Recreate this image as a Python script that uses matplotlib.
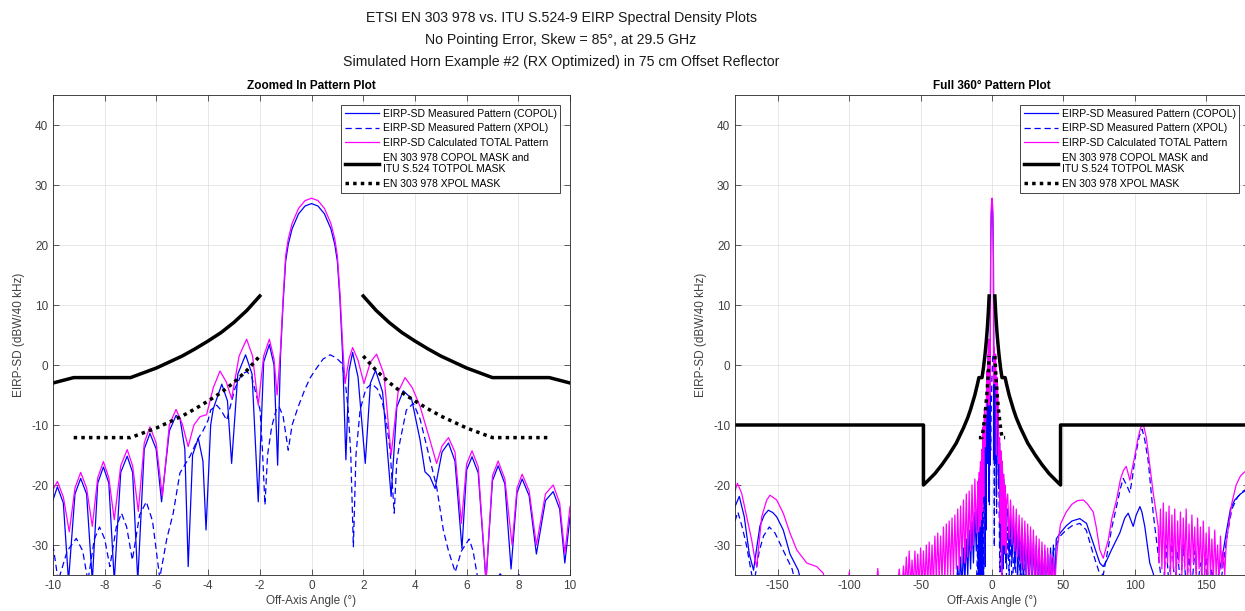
import numpy as np
import matplotlib
matplotlib.use("Agg")
import matplotlib.pyplot as plt

plt.rcParams["font.family"] = ["Liberation Sans", "DejaVu Sans"]
plt.rcParams["axes.unicode_minus"] = False

# ---- zoomed-in pattern (-10..10 deg) ----
mag_zoom_x = [-10.0, -9.83, -9.6, -9.37, -9.15, -8.93, -8.7, -8.48, -8.27, -8.05,
              -7.84, -7.63, -7.38, -7.13, -6.92, -6.7, -6.47, -6.25, -6.01, -5.77,
              -5.5, -5.24, -5.0, -4.77, -4.55, -4.31, -4.06, -3.8, -3.54, -3.3,
              -3.09, -2.8, -2.51, -2.28, -2.06, -1.85, -1.63, -1.45, -1.33, -1.2,
              -1.1, -1.0, -0.9, -0.75, -0.5, -0.25, 0.0, 0.25, 0.5, 0.75,
              0.9, 1.0, 1.1, 1.21, 1.3, 1.45, 1.59, 1.8, 2.03, 2.28,
              2.52, 2.8, 3.08, 3.35, 3.62, 3.9, 4.2, 4.58, 4.84, 5.05,
              5.3, 5.55, 5.8, 6.0, 6.21, 6.45, 6.75, 7.0, 7.22, 7.48,
              7.76, 7.95, 8.15, 8.42, 8.7, 9.05, 9.35, 9.6, 9.8, 10.0]
mag_zoom_y = [-20.8, -19.4, -22.0, -27.8, -20.5, -17.9, -20.5, -26.9, -18.8, -16.1,
              -18.8, -25.8, -16.8, -14.1, -16.8, -24.4, -13.0, -10.3, -13.0, -21.9,
              -10.0, -7.4, -9.8, -13.6, -10.0, -8.6, -8.3, -3.8, -1.0, -2.8,
              -5.6, 1.5, 4.3, 1.5, -6.7, 1.5, 4.3, 1.0, -5.0, 2.5,
              11.0, 18.2, 21.0, 23.6, 26.1, 27.4, 27.8, 27.4, 26.1, 23.6,
              21.0, 18.2, 12.0, 3.0, -3.1, 1.0, 2.9, 0.8, -3.1, 0.5,
              1.8, -1.5, -15.0, -4.5, -2.1, -3.8, -6.9, -12.5, -16.4, -13.5,
              -12.1, -14.5, -26.4, -16.5, -14.3, -17.0, -36.0, -18.5, -16.0, -19.0,
              -30.0, -20.5, -18.2, -21.0, -30.0, -21.5, -20.0, -23.0, -31.4, -23.6]

co_zoom_x = [-10.0, -9.83, -9.6, -9.4, -9.15, -8.93, -8.7, -8.48, -8.27, -8.05,
             -7.84, -7.63, -7.38, -7.13, -6.92, -6.72, -6.47, -6.25, -6.01, -5.8,
             -5.5, -5.24, -5.09, -4.9, -4.77, -4.6, -4.38, -4.2, -4.08, -3.9,
             -3.8, -3.47, -3.25, -3.09, -2.85, -2.55, -2.3, -2.06, -1.85, -1.63,
             -1.45, -1.31, -1.2, -1.1, -1.0, -0.9, -0.75, -0.5, -0.25, 0.0,
             0.25, 0.5, 0.75, 0.9, 1.0, 1.1, 1.2, 1.33, 1.45, 1.59,
             1.8, 2.08, 2.28, 2.48, 2.75, 3.08, 3.3, 3.55, 3.87, 4.2,
             4.39, 4.58, 4.78, 5.05, 5.3, 5.55, 5.82, 6.0, 6.21, 6.45,
             6.75, 7.0, 7.22, 7.48, 7.72, 7.95, 8.15, 8.42, 8.7, 9.05,
             9.35, 9.6, 9.8, 10.0]
co_zoom_y = [-22.5, -20.3, -23.0, -36.0, -21.5, -18.9, -21.5, -36.0, -19.7, -17.0,
             -19.7, -36.0, -17.9, -15.2, -17.9, -36.0, -14.0, -11.4, -14.0, -22.8,
             -11.0, -8.4, -8.8, -14.0, -33.6, -15.0, -12.2, -16.0, -27.5, -10.0,
             -7.3, -3.2, -6.0, -16.4, -1.5, 1.7, -1.5, -22.8, 0.5, 3.4,
             0.0, -16.7, 1.5, 10.2, 17.3, 20.1, 22.7, 25.2, 26.5, 26.9,
             26.5, 25.2, 22.7, 20.1, 17.3, 11.0, 2.0, -15.8, -1.0, 2.1,
             -2.0, -16.4, -3.0, -0.9, -4.5, -21.9, -7.0, -4.3, -5.6, -12.5,
             -17.8, -18.6, -20.6, -14.5, -13.0, -16.0, -30.6, -17.5, -15.3, -18.0,
             -36.0, -19.3, -16.8, -19.8, -34.0, -21.3, -19.0, -21.8, -31.5, -22.6,
             -21.1, -24.0, -33.0, -25.3]

x_zoom_x = [-10.0, -9.8, -9.45, -9.1, -8.85, -8.65, -8.4, -8.2, -8.0, -7.8,
            -7.55, -7.35, -7.15, -6.93, -6.65, -6.39, -6.15, -5.87, -5.6, -5.35,
            -5.09, -4.7, -4.38, -4.2, -4.0, -3.9, -3.67, -3.5, -3.28, -2.96,
            -2.7, -2.5, -2.31, -1.99, -1.9, -1.8, -1.7, -1.54, -1.35, -1.25,
            -1.1, -0.9, -0.75, -0.51, -0.25, -0.06, 0.2, 0.45, 0.72, 0.95,
            1.17, 1.3, 1.42, 1.52, 1.62, 1.72, 1.88, 2.1, 2.33, 2.55,
            2.72, 2.9, 3.04, 3.2, 3.3, 3.42, 3.67, 3.94, 4.2, 4.46,
            4.84, 5.1, 5.3, 5.56, 5.8, 6.1, 6.25, 6.45, 7.1, 7.3,
            7.5, 7.85, 8.0, 8.2, 10.0]
x_zoom_y = [-30.0, -36.0, -31.0, -28.9, -31.0, -36.0, -29.0, -27.0, -29.0, -33.6,
            -27.0, -24.7, -27.0, -32.5, -25.0, -22.8, -26.0, -35.5, -29.0, -24.7,
            -18.0, -15.2, -12.2, -11.0, -9.2, -7.5, -6.7, -7.5, -9.2, -3.9,
            -1.5, -1.1, -2.0, -7.5, -14.0, -23.3, -15.0, -10.3, -7.2, -7.0,
            -8.5, -14.2, -10.0, -6.9, -4.0, -2.2, -0.5, 1.0, 1.7, 1.2,
            0.3, -2.5, -7.5, -15.0, -30.3, -15.0, -7.5, -4.0, -3.1, -4.0,
            -5.8, -9.5, -14.2, -24.7, -16.0, -12.8, -7.5, -6.4, -9.0, -13.6,
            -20.3, -27.5, -31.0, -34.5, -31.0, -29.0, -31.0, -36.0, -36.0, -34.8,
            -36.0, -36.0, -34.8, -36.0, -36.0]

# ---- full 360 pattern, parts outside +-10 deg ----
mag_far_l_x = [-180, -178.3, -175.3, -171.8, -168.3, -166, -164.8, -161.3, -157.8,
               -155.5, -150.8, -146.2, -141.5, -136.8, -129.8, -122.8, -118.2, -116,
               -101, -100, -99, -81, -80, -79, -66, -65, -64]
mag_far_l_y = [-21, -19.7, -21.4, -25.3, -29.2, -32.5, -33.6, -25.3, -22.5,
               -21.7, -22.5, -24.7, -28, -30.8, -33, -33.6, -34.7, -37,
               -37, -34.5, -37, -37, -33.9, -37, -37, -34, -37]
mag_spk_l_x = list(range(-63, -10))
mag_spk_l_y = [-37, -33.5, -37, -32, -37, -31, -37, -32.5, -37, -31,
               -37, -31.5, -37, -30.5, -37, -31, -37, -30, -37, -29.5,
               -37, -30, -37, -28.5, -36, -28, -36, -28.5, -36, -27,
               -36, -26.5, -35, -26, -35, -25.5, -35, -25, -34, -24,
               -34, -23.5, -33, -22.5, -33, -21.5, -32, -21, -31, -20,
               -30, -19, -28]
mag_spk_r_x = list(range(11, 46))
mag_spk_r_y = [-21.5, -29, -22.5, -30, -23.5, -31, -24, -32, -25, -33,
               -25.5, -34, -26, -35, -26.5, -35, -27, -36, -27.5, -36,
               -28.5, -37, -29, -37, -29.5, -37, -30, -37, -30.5, -37,
               -31.5, -37, -32, -37, -32.5]
mag_far_r_x = ([46, 48, 52, 56, 60, 64, 67, 70.9, 73, 75.5, 77.9, 81.4, 84, 87.2,
                90, 92, 94, 96.6, 98, 100, 102, 104, 106, 108, 109.4, 112.9, 116.4]
               + list(range(117, 165)) + [165, 168, 171, 174, 177, 180])
mag_far_r_y = [-30, -26.5, -24.5, -23.2, -22.6, -22.5, -23.2, -24.5, -27, -30.8,
               -32.2, -29.2, -25.5, -22.5, -19, -17.6, -16.9, -19.2, -17.5, -15.2,
               -12.5, -10.5, -9.9, -12, -14.6, -21.3, -26.9,
               -33, -24, -34, -23, -35, -24.5, -33, -23.5, -35, -25,
               -34, -24, -36, -26, -33, -24.5, -35, -25.5, -34, -24,
               -36, -26.5, -35, -25, -33, -27, -36, -25.5, -34, -27,
               -36, -26, -35, -28, -36, -27, -35, -29, -36, -27.5,
               -35, -30, -36, -28.5, -34, -31, -35, -30,
               -28, -23, -20, -18.5, -17.8, -18]

co_far_l_x = [-180, -177, -173.5, -170, -167, -164.5, -162.5, -159.5, -156.6,
              -153.5, -150.8, -146.2, -141.5, -135.7, -133, -26]
co_far_l_y = [-23.6, -21.9, -25.3, -31.5, -34.2, -30, -26.8, -25, -24.2,
              -24.6, -25.3, -27.5, -31.5, -34.2, -37, -37]
co_spk_l_x = list(range(-25, -10))
co_spk_l_y = [-37, -33.5, -37, -32, -37, -30.5, -36, -29, -35, -27.5,
              -34, -26, -33, -24.5, -31]
co_spk_r_x = list(range(11, 46))
co_spk_r_y = [-24, -32, -25, -33, -25.5, -34, -26.5, -35, -27, -36,
              -27.5, -37, -28, -37, -28.5, -37, -29, -37, -29.5, -37,
              -30, -37, -30.5, -37, -31, -37, -31, -37, -31.5, -37,
              -30.5, -37, -30, -37, -29]
co_far_r_x = [47.8, 52, 56, 61.5, 66.2, 70.9, 75.5, 77.9, 80.5, 83.7,
              89.5, 93, 95.4, 98.9, 101, 103.6, 105, 107, 110.5, 112.9,
              115, 155, 159, 162, 164, 167, 170, 174, 177, 180]
co_far_r_y = [-28, -26.8, -26, -25.6, -26.4, -29.7, -33, -33.6, -32.5, -30.8,
              -28, -25.5, -24.7, -26.9, -25, -23.6, -24.5, -26.9, -33, -34.7,
              -37, -37, -34.7, -31, -28, -24, -22.5, -21.5, -21, -21]

x_far_l_x = [-180, -178, -175, -172, -169, -167, -165, -163, -160, -156,
             -152, -148, -144, -140, -137, -11]
x_far_l_y = [-26, -24.5, -27, -30, -34, -36.5, -34, -31, -28.5, -27,
             -28, -30, -32, -34, -37, -37]
x_far_r_x = [11, 12, 13, 14, 16, 17, 19, 20, 22, 23,
             40, 43, 46, 47.8, 52, 56, 61.5, 66, 70.9, 75,
             77.9, 81, 84, 87.2, 90, 91.9, 94.2, 96.6, 98.5, 100,
             103, 105.2, 107, 109.4, 112.9, 116.4, 118, 120, 122, 124,
             126, 128, 130, 132, 134, 136, 138, 140, 142, 144,
             146, 148, 150, 152, 154, 156, 160, 162, 165, 168,
             172, 176, 180]
x_far_r_y = [-27, -35, -28, -37, -30, -37, -31, -37, -32, -37,
             -37, -31, -29.5, -28.5, -27.5, -26.8, -26.4, -27.5, -31.5, -34.5,
             -35, -31, -27, -23.6, -20.5, -18.9, -20, -21.3, -18.5, -15.8,
             -12, -10.7, -12.5, -16, -24.7, -31.5, -34.7, -37, -30, -37,
             -29, -37, -31, -37, -30, -37, -32, -37, -31, -37,
             -33, -37, -32, -37, -34, -37, -37, -33, -28, -24,
             -22, -21, -20.5]

# ---- masks ----
nan = np.nan
copol_mask_x = [-180, -48, -48, -45, -40, -35, -30, -25, -20, -17, -15, -12, -10,
                -9.2, -7, -6.5, -6, -5.5, -5, -4.5, -4, -3.5, -3, -2.5, -2, nan,
                2, 2.5, 3, 3.5, 4, 4.5, 5, 5.5, 6, 6.5, 7, 9.2,
                10, 12, 15, 17, 20, 25, 30, 35, 40, 45, 48, 48, 180]
copol_mask_y = [-10, -10, -20, -19.3, -18.1, -16.6, -14.9, -13, -10.5, -8.8, -7.4, -5, -3,
                -2.1, -2.1, -1.3, -0.5, 0.5, 1.5, 2.7, 4.0, 5.4, 7.1, 9.1, 11.5, nan,
                11.5, 9.1, 7.1, 5.4, 4.0, 2.7, 1.5, 0.5, -0.5, -1.3, -2.1, -2.1,
                -3, -5, -7.4, -8.8, -10.5, -13, -14.9, -16.6, -18.1, -19.3, -20, -10, -10]
xpol_mask_x = [-9.2, -7, -6.5, -6, -5.5, -5, -4.5, -4, -3.5, -3, -2.5, -2, nan,
               2, 2.5, 3, 3.5, 4, 4.5, 5, 5.5, 6, 6.5, 7, 9.2]
xpol_mask_y = [-12.1, -12.1, -11.3, -10.5, -9.5, -8.5, -7.3, -6.0, -4.6, -2.9, -0.9, 1.5, nan,
               1.5, -0.9, -2.9, -4.6, -6.0, -7.3, -8.5, -9.5, -10.5, -11.3, -12.1, -12.1]

labels = ["EIRP-SD Measured Pattern (COPOL)",
          "EIRP-SD Measured Pattern (XPOL)",
          "EIRP-SD Calculated TOTAL Pattern",
          "EN 303 978 COPOL MASK and\nITU S.524 TOTPOL MASK",
          "EN 303 978 XPOL MASK"]

title_lines = ["ETSI EN 303 978 vs. ITU S.524-9 EIRP Spectral Density Plots",
               "No Pointing Error, Skew = 85\u00b0, at 29.5 GHz",
               "Simulated Horn Example #2 (RX Optimized) in 75 cm Offset Reflector"]

BLUE = "#0000ff"
MAG = "#ff00ff"
TXT = "#404040"


def draw(ax, co, xp, mag):
    ax.plot(co[0], co[1], color=BLUE, lw=0.9, label=labels[0])
    ax.plot(xp[0], xp[1], color=BLUE, lw=0.9, ls=(0, (5, 3)), label=labels[1])
    ax.plot(mag[0], mag[1], color=MAG, lw=0.9, label=labels[2])
    ax.plot(copol_mask_x, copol_mask_y, color="black", lw=2.5, label=labels[3])
    ax.plot(xpol_mask_x, xpol_mask_y, color="black", lw=2.5, ls=(0, (1, 1.2)),
            label=labels[4])
    ax.set_ylim(-35, 45)
    ax.set_yticks([-30, -20, -10, 0, 10, 20, 30, 40])
    ax.grid(True, color="#e3e3e3", lw=0.6)
    ax.set_axisbelow(True)
    ax.tick_params(direction="in", top=True, right=True, labelsize=8.5,
                   colors=TXT, length=4, width=0.6)
    for s in ax.spines.values():
        s.set_color("#262626")
        s.set_linewidth(0.6)
    ax.set_xlabel("Off-Axis Angle (\u00b0)", fontsize=8.5, color=TXT, labelpad=2)
    ax.set_ylabel("EIRP-SD (dBW/40 kHz)", fontsize=8.5, color=TXT, labelpad=4)
    leg = ax.legend(loc="upper right", bbox_to_anchor=(0.981, 0.979), borderaxespad=0,
                    fontsize=7.5, fancybox=False, framealpha=1, edgecolor="#262626",
                    borderpad=0.35, labelspacing=0.45, handlelength=3.3,
                    handletextpad=0.3)
    leg.get_frame().set_linewidth(0.6)


fig = plt.figure(figsize=(12.45, 6.11), dpi=100)
ax1 = fig.add_axes([53 / 1245, 36 / 611, 517 / 1245, 480 / 611])
ax2 = fig.add_axes([735 / 1245, 36 / 611, 514 / 1245, 480 / 611])

draw(ax1, (co_zoom_x, co_zoom_y), (x_zoom_x, x_zoom_y), (mag_zoom_x, mag_zoom_y))
ax1.set_xlim(-10, 10)
ax1.set_xticks(range(-10, 11, 2))
ax1.set_title("Zoomed In Pattern Plot", fontsize=8.5, fontweight="bold", pad=4)

co_full = (co_far_l_x + co_spk_l_x + co_zoom_x + co_spk_r_x + co_far_r_x,
           co_far_l_y + co_spk_l_y + co_zoom_y + co_spk_r_y + co_far_r_y)
x_full = (x_far_l_x + x_zoom_x + x_far_r_x,
          x_far_l_y + x_zoom_y + x_far_r_y)
mag_full = (mag_far_l_x + mag_spk_l_x + mag_zoom_x + mag_spk_r_x + mag_far_r_x,
            mag_far_l_y + mag_spk_l_y + mag_zoom_y + mag_spk_r_y + mag_far_r_y)
draw(ax2, co_full, x_full, mag_full)
ax2.set_xlim(-180, 180)
ax2.set_xticks([-150, -100, -50, 0, 50, 100, 150])
ax2.set_title("Full 360\u00b0 Pattern Plot", fontsize=8.5, fontweight="bold", pad=4)

for i, line in enumerate(title_lines):
    fig.text(561 / 1245, 1 - (18 + 22 * i) / 611, line, ha="center", va="center",
             fontsize=10.2, color="#1a1a1a")

fig.savefig("out.png", dpi=100)
